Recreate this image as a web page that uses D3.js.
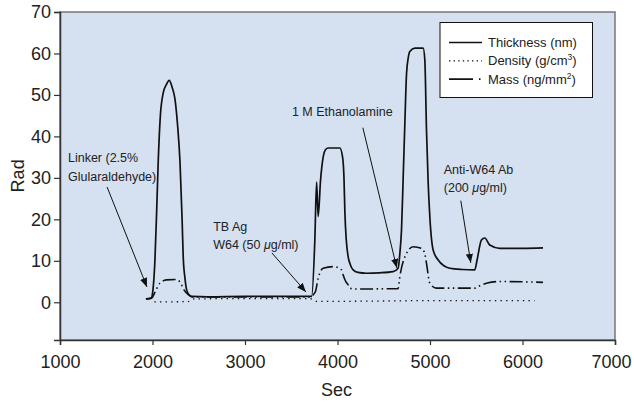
<!DOCTYPE html>
<html>
<head>
<meta charset="utf-8">
<script src="https://cdn.jsdelivr.net/npm/d3@7"></script>
<style>
  body { margin: 0; background: #fff; }
  text { font-family: "Liberation Sans", Arial, Helvetica, sans-serif; fill: #222; }
</style>
</head>
<body>
<svg id="chart" width="634" height="403"></svg>
<script>
// thickness (nm)
const thickSec = [1929, 1985, 2005, 2026, 2045, 2062, 2085, 2116, 2150, 2181, 2210, 2243, 2270, 2297, 2320, 2332, 2350, 2369, 2395, 2423, 2600, 3000, 3400, 3720,
  3755, 3774, 3791, 3817, 3845, 3870, 3899, 4025, 4055, 4070, 4080, 4095, 4115, 4140, 4169, 4220, 4314, 4450, 4601, 4655,
  4675, 4692, 4710, 4728, 4746, 4765, 4782, 4836, 4926, 4944, 4962, 4980, 4998, 5034, 5088, 5150, 5214, 5350, 5484,
  5509, 5556, 5592, 5646, 5754, 6000, 6222]
const thickVal = [0.8, 1.0, 3, 10, 22, 34, 45, 50.5, 52.5, 53.5, 52, 49, 43, 34, 20, 11, 6, 3, 1.8, 1.4, 1.3, 1.4, 1.4, 1.4,
  15, 29, 20.7, 29.5, 35, 36.8, 37.2, 37.2, 35, 30, 21.6, 15, 11, 9, 7.8, 7.2, 7.0, 7.1, 7.4, 8.2,
  12, 17.5, 30, 43, 55, 59, 60.5, 61.3, 61.3, 58.5, 41.6, 29, 20.7, 12.6, 10.2, 8.8, 8.2, 7.9, 7.8,
  10.2, 15, 15.5, 13.8, 13, 13, 13.1]

// density (g/cm3)
const densSec = [2020, 2380, 2450, 3000, 3700, 3780, 4500, 5000, 6130]
const densVal = [0.1, 0.15, 0.8, 0.9, 0.9, 0.2, 0.3, 0.4, 0.4]

// mass (ng/mm2)
const massSec = [1929, 1990, 2030, 2080, 2150, 2250, 2300, 2340, 2390, 2430, 3000, 3700, 3760, 3791, 3845, 3953, 4044, 4061, 4090,
  4115, 4133, 4200, 4655, 4674, 4746, 4818, 4908, 4940, 4962, 4998, 5070, 5484, 5540, 5610, 5754, 6222]
const massVal = [0.8, 1.0, 2.6, 4.6, 5.4, 5.5, 4.8, 3, 1.8, 1.3, 1.3, 1.3, 2.5, 5.8, 8.2, 8.6, 7.8, 6.6, 5,
  4.2, 3.4, 3.2, 3.3, 6.2, 11.8, 13.4, 13, 12, 9.4, 4.6, 3.4, 3.4, 4, 4.6, 5, 4.8]

const xTicks = [1000, 2000, 3000, 4000, 5000, 6000, 7000]
const yTicks = [0, 10, 20, 30, 40, 50, 60, 70]

// annotations: text position and arrow (from -> to) in data units
const noteLines = [
  ['Linker (2.5%', 'Glularaldehyde)'],
  ['TB Ag', 'W64 (50 |μ|g/ml)'],
  ['1 M Ethanolamine'],
  ['Anti-W64 Ab', '(200 |μ|g/ml)']
]
const noteAt = [[1086, 33.8], [2656, 17.3], [3507, 44.8], [5149, 31.0]]
const arrowFrom = [[1509, 27.8], [3291, 11.9], [4274, 42.1], [5333, 24.5]]
const arrowTo = [[1940, 3.7], [3658, 2.5], [4641, 8.3], [5441, 9.5]]

const W = 634
const H = 403
const margin = { top: 12, right: 19, bottom: 63, left: 60 }
const w = W - margin.left - margin.right
const h = H - margin.top - margin.bottom

const svg = d3.select('#chart')
const g = svg.append('g').attr('transform', `translate(${margin.left},${margin.top})`)

const x = d3.scaleLinear().domain([1000, 7000]).range([0, w])
const y = d3.scaleLinear().domain([-9.1, 70]).range([h, 0])

svg.append('defs').append('marker')
  .attr('id', 'arrow')
  .attr('viewBox', '0 0 10 10')
  .attr('refX', 10).attr('refY', 5)
  .attr('markerWidth', 9).attr('markerHeight', 9)
  .attr('markerUnits', 'userSpaceOnUse')
  .attr('orient', 'auto')
  .append('path').attr('d', 'M0,1 L10,5 L0,9 Z').attr('fill', '#111')

g.append('rect')
  .attr('width', w).attr('height', h)
  .attr('fill', '#d5e0f1')
  .attr('stroke', '#777').attr('stroke-width', 1.5)

const xAxis = g.append('g')
  .attr('transform', `translate(0,${h})`)
  .call(d3.axisBottom(x).tickValues(xTicks).tickSize(5).tickPadding(10).tickFormat(d3.format('d')))
const yAxis = g.append('g')
  .call(d3.axisLeft(y).tickValues(yTicks).tickSize(6).tickPadding(3))

for (const ax of [xAxis, yAxis]) {
  ax.select('.domain').attr('stroke', '#333').attr('stroke-width', 1.5)
  ax.selectAll('.tick line').attr('stroke', '#333').attr('stroke-width', 1.2)
  ax.selectAll('.tick text').attr('font-size', 18).attr('fill', '#222')
    .style('font-family', '"Liberation Sans", Arial, sans-serif')
}
// last x label sits a little left so it fits the page
xAxis.selectAll('.tick text').filter(d => d === 7000).attr('dx', -4)

svg.append('text')
  .attr('transform', `translate(24,${margin.top + y(30) - 2}) rotate(-90)`)
  .attr('text-anchor', 'middle')
  .attr('font-size', 18)
  .text('Rad')

svg.append('text')
  .attr('x', margin.left + w / 2 - 1)
  .attr('y', 396)
  .attr('text-anchor', 'middle')
  .attr('font-size', 18)
  .text('Sec')

const line = d3.line()
  .x(d => x(d[0]))
  .y(d => y(d[1]))
  .curve(d3.curveMonotoneX)

const series = [
  { sec: densSec, val: densVal, dash: '1.4,4.2', width: 1.3 },
  { sec: massSec, val: massVal, dash: '13,3.5,1.5,3.5,1.5,3.5', width: 1.6 },
  { sec: thickSec, val: thickVal, dash: null, width: 1.7 }
]

g.selectAll('path.series')
  .data(series)
  .enter()
  .append('path')
  .attr('class', 'series')
  .attr('d', d => line(d.sec.map((s, i) => [s, d.val[i]])))
  .attr('fill', 'none')
  .attr('stroke', '#111')
  .attr('stroke-width', d => d.width)
  .attr('stroke-dasharray', d => d.dash)

// annotations
const notes = g.selectAll('g.note')
  .data(noteLines.map((lines, i) => ({ lines, at: noteAt[i], from: arrowFrom[i], to: arrowTo[i] })))
  .enter()
  .append('g')
  .attr('class', 'note')

notes.append('line')
  .attr('x1', d => x(d.from[0])).attr('y1', d => y(d.from[1]))
  .attr('x2', d => x(d.to[0])).attr('y2', d => y(d.to[1]))
  .attr('stroke', '#111').attr('stroke-width', 1)
  .attr('marker-end', 'url(#arrow)')

notes.each(function (d) {
  const t = d3.select(this).append('text')
    .attr('x', x(d.at[0]))
    .attr('y', y(d.at[1]))
    .attr('font-size', 12.5)
  d.lines.forEach((ln, i) => {
    const parts = ln.split('|')
    parts.forEach((p, j) => {
      const ts = t.append('tspan').text(p)
      if (j === 0) ts.attr('x', x(d.at[0])).attr('dy', i === 0 ? 0 : 18.5)
      if (j === 1) ts.attr('font-style', 'italic')
    })
  })
})

// legend
const legendItems = [
  { label: ['Thickness (nm)', ''], dash: null, width: 1.3 },
  { label: ['Density (g/cm', '3', ')'], dash: '1.4,3.2', width: 1.2 },
  { label: ['Mass (ng/mm', '2', ')'], dash: '24,6,1.5,20', width: 1.6 }
]

const lg = svg.append('g').attr('transform', 'translate(440,22.5)')
lg.append('rect')
  .attr('width', 152.5).attr('height', 75)
  .attr('fill', '#fff').attr('stroke', '#111').attr('stroke-width', 1)

const li = lg.selectAll('g.item')
  .data(legendItems)
  .enter()
  .append('g')
  .attr('class', 'item')
  .attr('transform', (d, i) => `translate(0,${20 + i * 18.3})`)

li.append('line')
  .attr('x1', 9).attr('x2', 42)
  .attr('stroke', '#111')
  .attr('stroke-width', d => d.width)
  .attr('stroke-dasharray', d => d.dash)

li.each(function (d) {
  const t = d3.select(this).append('text')
    .attr('x', 48).attr('y', 4.5)
    .attr('font-size', 13)
  t.append('tspan').text(d.label[0])
  if (d.label[1]) {
    t.append('tspan').text(d.label[1]).attr('font-size', 8.5).attr('dy', -5)
    t.append('tspan').text(d.label[2]).attr('dy', 5)
  }
})
</script>
</body>
</html>
